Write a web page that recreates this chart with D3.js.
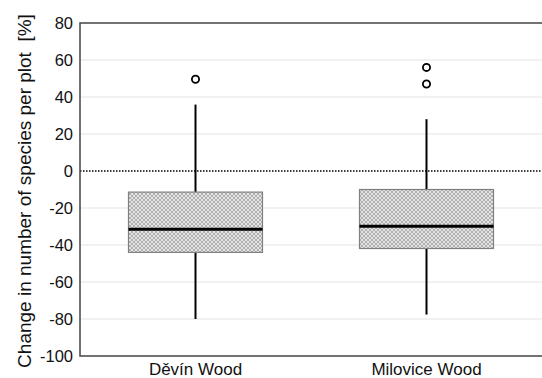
<!DOCTYPE html>
<html>
<head>
<meta charset="utf-8">
<script src="https://cdn.jsdelivr.net/npm/d3@7"></script>
<style>
  body { margin: 0; background: #fff; }
  text { font-family: "Liberation Sans", Arial, sans-serif; }
</style>
</head>
<body>
<div id="chart"></div>
<script>
// data
const sites = ['Děvín Wood', 'Milovice Wood'];
const whiskerLow = [-80, -77.6];
const q1 = [-44, -41.9];
const median = [-31.5, -29.9];
const q3 = [-11.4, -10];
const whiskerHigh = [35.9, 28];
const outliers = [[49.6], [56, 47]];
const yTicks = [80, 60, 40, 20, 0, -20, -40, -60, -80, -100];

const width = 542, height = 378;
const margin = {top: 23, right: 0, bottom: 22, left: 80};

const svg = d3.select('#chart').append('svg')
    .attr('width', width)
    .attr('height', height);

// crosshatch fill for the boxes
const pat = svg.append('defs').append('pattern')
    .attr('id', 'hatch')
    .attr('patternUnits', 'userSpaceOnUse')
    .attr('width', 4)
    .attr('height', 4);
pat.append('rect').attr('width', 4).attr('height', 4).attr('fill', '#e4e4e4');
pat.append('path')
    .attr('d', 'M0,0 L4,4 M4,0 L0,4')
    .attr('stroke', '#9a9a9a')
    .attr('stroke-width', 0.7);

const xScale = d3.scaleBand()
    .domain(sites)
    .range([margin.left, width - margin.right]);
const yScale = d3.scaleLinear()
    .domain([-100, 80])
    .range([height - margin.bottom, margin.top]);

// grid lines
svg.append('g').selectAll('line')
    .data(yTicks.filter(d => d !== 0 && d !== 80 && d !== -100))
    .enter().append('line')
    .attr('x1', margin.left)
    .attr('x2', width - margin.right)
    .attr('y1', d => yScale(d))
    .attr('y2', d => yScale(d))
    .attr('stroke', '#e3e3e3')
    .attr('stroke-width', 1);

// zero reference line
svg.append('line')
    .attr('x1', margin.left)
    .attr('x2', width - margin.right)
    .attr('y1', yScale(0))
    .attr('y2', yScale(0))
    .attr('stroke', '#000')
    .attr('stroke-width', 1.3)
    .attr('stroke-dasharray', '1.5,1.5');

// frame: top, left, bottom
svg.append('path')
    .attr('d', `M${width},${yScale(80)} H${margin.left} V${yScale(-100)} H${width}`)
    .attr('fill', 'none')
    .attr('stroke', '#444')
    .attr('stroke-width', 1.5);

// y tick labels
svg.append('g').selectAll('text')
    .data(yTicks)
    .enter().append('text')
    .attr('x', margin.left - 7)
    .attr('y', d => yScale(d))
    .attr('dy', '0.36em')
    .attr('text-anchor', 'end')
    .attr('font-size', 16.5)
    .attr('fill', '#111')
    .text(d => d);

// x labels
svg.append('g').selectAll('text')
    .data(sites)
    .enter().append('text')
    .attr('x', d => xScale(d) + xScale.bandwidth() / 2)
    .attr('y', height - 3)
    .attr('text-anchor', 'middle')
    .attr('font-size', 17)
    .attr('fill', '#111')
    .text(d => d);

// y axis title
svg.append('text')
    .attr('transform', 'translate(31,191) rotate(-90)')
    .attr('text-anchor', 'middle')
    .attr('font-size', 19)
    .attr('fill', '#111')
    .text('Change in number of species per plot\u00a0\u00a0[%]');

const boxW = 134;
const plotG = svg.append('g');

sites.forEach((s, i) => {
    const cx = xScale(s) + xScale.bandwidth() / 2;
    // whiskers
    plotG.append('line')
        .attr('x1', cx).attr('x2', cx)
        .attr('y1', yScale(whiskerHigh[i])).attr('y2', yScale(q3[i]))
        .attr('stroke', '#000').attr('stroke-width', 2);
    plotG.append('line')
        .attr('x1', cx).attr('x2', cx)
        .attr('y1', yScale(q1[i])).attr('y2', yScale(whiskerLow[i]))
        .attr('stroke', '#000').attr('stroke-width', 2);
    // box
    plotG.append('rect')
        .attr('x', cx - boxW / 2)
        .attr('width', boxW)
        .attr('y', yScale(q3[i]))
        .attr('height', yScale(q1[i]) - yScale(q3[i]))
        .attr('fill', 'url(#hatch)')
        .attr('stroke', '#808080')
        .attr('stroke-width', 1.2);
    // median
    plotG.append('line')
        .attr('x1', cx - boxW / 2).attr('x2', cx + boxW / 2)
        .attr('y1', yScale(median[i])).attr('y2', yScale(median[i]))
        .attr('stroke', '#000').attr('stroke-width', 3);
    // outliers
    plotG.selectAll(null)
        .data(outliers[i])
        .enter().append('circle')
        .attr('cx', cx)
        .attr('cy', d => yScale(d))
        .attr('r', 3.6)
        .attr('fill', '#fff')
        .attr('stroke', '#000')
        .attr('stroke-width', 1.8);
});
</script>
</body>
</html>
